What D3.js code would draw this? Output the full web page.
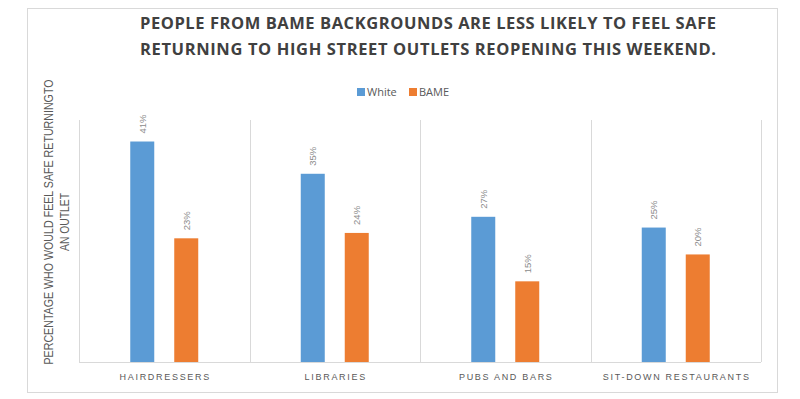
<!DOCTYPE html>
<html lang="en">
<head>
<meta charset="utf-8">
<title>Feeling safe returning to high street outlets</title>
<style>
  body { margin: 0; background: #fff; }
  svg { display: block; }
</style>
</head>
<body>
<div id="chart"></div>
<script src="https://d3js.org/d3.v7.min.js"></script>
<script>

// data
var categories = ["HAIRDRESSERS", "LIBRARIES", "PUBS AND BARS", "SIT-DOWN RESTAURANTS"]
var seriesNames = ["White", "BAME"]
var whiteValues = [0.41, 0.35, 0.27, 0.25]
var bameValues = [0.23, 0.24, 0.15, 0.20]
var titleLines = ["PEOPLE FROM BAME BACKGROUNDS ARE LESS LIKELY TO FEEL SAFE",
                  "RETURNING TO HIGH STREET OUTLETS REOPENING THIS WEEKEND."]
var yLabelLines = ["PERCENTAGE WHO WOULD FEEL SAFE RETURNINGTO", "AN OUTLET"]

var colors = {White: "#5b9bd5", BAME: "#ed7d31"}

var width = 800, height = 399
var plot = {left: 79, right: 761, top: 120, bottom: 362}

var svg = d3.select("#chart").append("svg")
  .attr("width", width)
  .attr("height", height)

// outer frame
svg.append("rect")
  .attr("x", 27.5).attr("y", 8.5)
  .attr("width", 750).attr("height", 384)
  .attr("fill", "white")
  .attr("stroke", "#d9d9d9")

// scales
var x0 = d3.scaleBand()
  .domain(categories)
  .range([plot.left, plot.right])

var x1 = d3.scaleBand()
  .domain(seriesNames)
  .range([0, x0.bandwidth()])
  .paddingInner(0.4545)
  .paddingOuter(1.165)

var y = d3.scaleLinear()
  .domain([0, 0.45])
  .range([plot.bottom, plot.top])

// vertical separators between categories
var edges = categories.map(function(c) { return x0(c) }).concat([plot.right])
svg.append("g").selectAll("line")
  .data(edges)
  .join("line")
    .attr("x1", function(d) { return Math.round(d) + 0.5 })
    .attr("x2", function(d) { return Math.round(d) + 0.5 })
    .attr("y1", y(0.45))
    .attr("y2", y(0))
    .attr("stroke", "#d9d9d9")

// baseline
svg.append("line")
  .attr("x1", plot.left).attr("x2", plot.right)
  .attr("y1", y(0) + 0.5).attr("y2", y(0) + 0.5)
  .attr("stroke", "#d9d9d9")

// bars
var rows = categories.map(function(c, i) {
  return {cat: c, values: [{key: "White", v: whiteValues[i]}, {key: "BAME", v: bameValues[i]}]}
})

var groups = svg.append("g").selectAll("g")
  .data(rows)
  .join("g")
    .attr("transform", function(d) { return "translate(" + x0(d.cat) + ",0)" })

groups.selectAll("rect")
  .data(function(d) { return d.values })
  .join("rect")
    .attr("x", function(d) { return x1(d.key) })
    .attr("y", function(d) { return y(d.v) })
    .attr("width", x1.bandwidth())
    .attr("height", function(d) { return y(0) - y(d.v) })
    .attr("fill", function(d) { return colors[d.key] })

// value labels, rotated
groups.selectAll("text")
  .data(function(d) { return d.values })
  .join("text")
    .attr("transform", function(d) {
      return "translate(" + (x1(d.key) + x1.bandwidth() / 2 + 3.5) + "," + (y(d.v) - 8) + ") rotate(-90)"
    })
    .attr("font-family", "Liberation Sans, Arial, sans-serif")
    .attr("font-size", "9.5px")
    .attr("fill", "#8c8c8c")
    .text(function(d) { return d3.format(".0%")(d.v) })

// category labels
svg.append("g").selectAll("text")
  .data(categories)
  .join("text")
    .attr("x", function(d) { return x0(d) + x0.bandwidth() / 2 + 1 })
    .attr("y", plot.bottom + 18)
    .attr("text-anchor", "middle")
    .attr("font-family", "Liberation Sans, Arial, sans-serif")
    .attr("font-size", "9px")
    .attr("letter-spacing", "1.7px")
    .attr("fill", "#595959")
    .text(function(d) { return d })

// title
svg.append("g").selectAll("text")
  .data(titleLines)
  .join("text")
    .attr("x", 428)
    .attr("y", function(d, i) { return 29 + i * 26 })
    .attr("text-anchor", "middle")
    .attr("font-family", "Open Sans, sans-serif")
    .attr("font-weight", "bold")
    .attr("font-size", "16.5px")
    .attr("textLength", 576)
    .attr("lengthAdjust", "spacing")
    .attr("fill", "#404040")
    .text(function(d) { return d })

// legend
var legend = svg.append("g").attr("transform", "translate(357,92)")
var legendItems = legend.selectAll("g")
  .data(seriesNames)
  .join("g")
    .attr("transform", function(d, i) { return "translate(" + (i * 52) + ",0)" })
legendItems.append("rect")
  .attr("x", 0).attr("y", -4)
  .attr("width", 8).attr("height", 8)
  .attr("fill", function(d) { return colors[d] })
legendItems.append("text")
  .attr("x", 10).attr("y", 4)
  .attr("font-family", "Open Sans, sans-serif")
  .attr("font-size", "11px")
  .attr("fill", "#595959")
  .text(function(d) { return d })

// y axis title (narrow, so squeeze the glyphs a little)
var yLabelLengths = [285, 58]
svg.append("g")
  .attr("transform", "translate(0," + 222 + ")")
  .selectAll("text")
  .data(yLabelLines)
  .join("text")
    .attr("transform", function(d, i) { return "translate(" + (53 + i * 15.5) + ",0) rotate(-90)" })
    .attr("text-anchor", "middle")
    .attr("font-family", "Liberation Sans, Arial, sans-serif")
    .attr("font-size", "12px")
    .attr("textLength", function(d, i) { return yLabelLengths[i] })
    .attr("lengthAdjust", "spacingAndGlyphs")
    .attr("fill", "#595959")
    .text(function(d) { return d })

</script>
</body>
</html>
